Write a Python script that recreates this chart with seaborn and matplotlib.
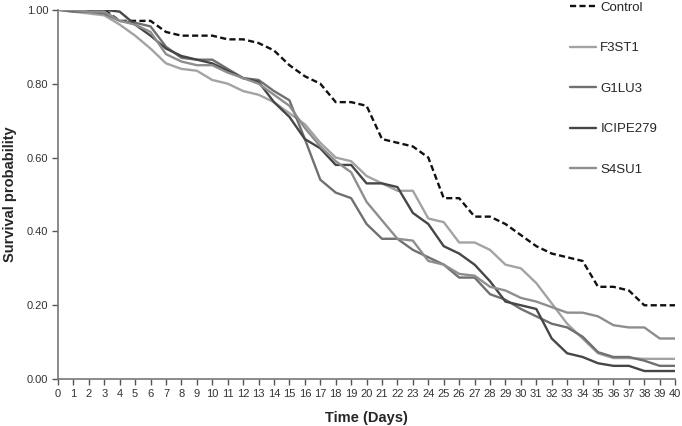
"""Survival probability curves for fungal isolates vs. control."""

import matplotlib.pyplot as plt
import pandas as pd
import seaborn as sns
from matplotlib.ticker import FormatStrFormatter

days = list(range(41))

control = [1.00, 1.00, 1.00, 1.00, 0.97, 0.97, 0.97, 0.94, 0.93, 0.93,
           0.93, 0.92, 0.92, 0.91, 0.89, 0.85, 0.82, 0.80, 0.75, 0.75,
           0.74, 0.65, 0.64, 0.63, 0.60, 0.49, 0.49, 0.44, 0.44, 0.42,
           0.39, 0.36, 0.34, 0.33, 0.32, 0.25, 0.25, 0.24, 0.20, 0.20, 0.20]
f3st1 = [1.00, 0.995, 0.99, 0.985, 0.96, 0.93, 0.895, 0.855, 0.84, 0.835,
         0.81, 0.80, 0.78, 0.77, 0.75, 0.72, 0.69, 0.64, 0.60, 0.59,
         0.55, 0.53, 0.51, 0.51, 0.435, 0.425, 0.37, 0.37, 0.35, 0.31,
         0.30, 0.26, 0.205, 0.15, 0.11, 0.07, 0.057, 0.057, 0.055, 0.055, 0.055]
g1lu3 = [1.00, 0.995, 0.995, 0.99, 0.97, 0.965, 0.955, 0.90, 0.87, 0.865,
         0.865, 0.84, 0.815, 0.81, 0.78, 0.755, 0.65, 0.54, 0.505, 0.49,
         0.42, 0.38, 0.38, 0.35, 0.33, 0.31, 0.275, 0.275, 0.23, 0.215,
         0.19, 0.17, 0.15, 0.14, 0.115, 0.073, 0.06, 0.06, 0.05, 0.036, 0.036]
icipe279 = [1.00, 1.00, 1.00, 1.00, 0.995, 0.96, 0.93, 0.895, 0.875, 0.865,
            0.855, 0.835, 0.815, 0.805, 0.75, 0.71, 0.65, 0.625, 0.58, 0.58,
            0.53, 0.53, 0.52, 0.45, 0.42, 0.36, 0.34, 0.31, 0.265, 0.21,
            0.20, 0.19, 0.11, 0.07, 0.06, 0.043, 0.036, 0.036, 0.022, 0.022, 0.022]
s4su1 = [1.00, 1.00, 0.995, 0.995, 0.97, 0.96, 0.94, 0.88, 0.86, 0.85,
         0.85, 0.83, 0.815, 0.80, 0.77, 0.74, 0.68, 0.63, 0.59, 0.56,
         0.48, 0.43, 0.38, 0.375, 0.32, 0.31, 0.285, 0.28, 0.25, 0.24,
         0.22, 0.21, 0.195, 0.18, 0.18, 0.17, 0.146, 0.14, 0.14, 0.11, 0.11]

groups = ["Control", "F3ST1", "G1LU3", "ICIPE279", "S4SU1"]
series = [control, f3st1, g1lu3, icipe279, s4su1]
colors = ["#111111", "#a3a3a3", "#707070", "#464646", "#8e8e8e"]


def main() -> None:
    df = pd.concat(
        [pd.DataFrame({"day": days, "survival": vals, "group": name})
         for name, vals in zip(groups, series)],
        ignore_index=True,
    )

    sns.set_style("white")
    plt.rcParams["font.family"] = ["Liberation Sans", "DejaVu Sans"]

    fig = plt.figure(figsize=(6.82, 4.26), dpi=100)
    ax = fig.add_axes([0.085, 0.110, 0.905, 0.867])

    palette = dict(zip(groups, colors))
    dashes = {g: "" for g in groups}
    dashes["Control"] = (2.6, 1.4)
    sns.lineplot(data=df, x="day", y="survival", hue="group", style="group",
                 palette=palette, dashes=dashes, linewidth=1.7, ax=ax)

    ax.set_xlim(0, 40)
    ax.set_ylim(0, 1.0)
    ax.set_xticks(range(0, 41))
    ax.set_yticks([0, 0.2, 0.4, 0.6, 0.8, 1.0])
    ax.yaxis.set_major_formatter(FormatStrFormatter("%.2f"))
    ax.tick_params(axis="both", labelsize=8, colors="#333333", length=4,
                   width=1, direction="out", bottom=True, left=True)
    ax.tick_params(axis="x", color="#555555", pad=3)
    ax.tick_params(axis="y", color="#555555", pad=3)
    for side in ["top", "right"]:
        ax.spines[side].set_visible(False)
    for side in ["left", "bottom"]:
        ax.spines[side].set_color("#777777")
        ax.spines[side].set_linewidth(1.2)

    ax.set_xlabel("Time (Days)", fontsize=10.5, fontweight="bold", labelpad=9)
    ax.set_ylabel("Survival probability", fontsize=10.5, fontweight="bold",
                  labelpad=7)

    ax.legend(loc="upper left", bbox_to_anchor=(570 / 682, 0.997),
              bbox_transform=fig.transFigure, frameon=False, fontsize=9.5,
              labelspacing=2.15, handlelength=2.0, handletextpad=0.3,
              borderpad=0.0, borderaxespad=0.0)

    fig.savefig("out.png", dpi=100)


if __name__ == "__main__":
    main()
